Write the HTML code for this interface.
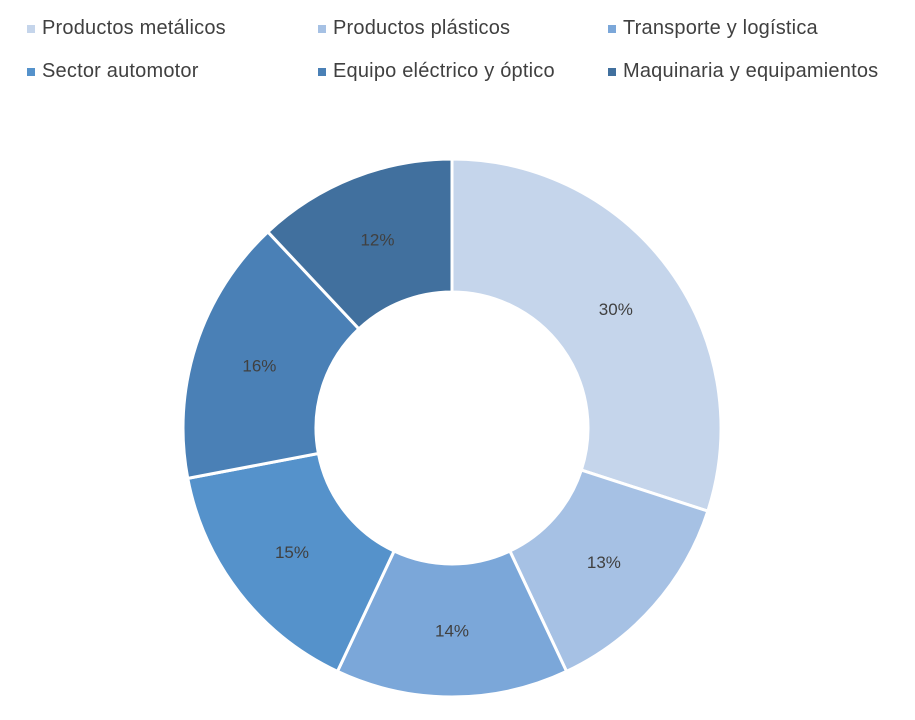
<!DOCTYPE html>
<html><head><meta charset="utf-8"><style>
body{margin:0;background:#fff;width:915px;height:720px;overflow:hidden;font-family:"Liberation Sans",sans-serif}
.lg{position:absolute;font-size:20px;letter-spacing:0.2px;color:#404040;white-space:nowrap}
.lg i{position:absolute;left:-15px;top:8px;width:8px;height:8px}
</style></head><body>
<div class="lg" style="left:42px;top:17px"><i style="background:#c5d5eb"></i>Productos metálicos</div>
<div class="lg" style="left:333px;top:17px"><i style="background:#a6c1e4"></i>Productos plásticos</div>
<div class="lg" style="left:623px;top:17px"><i style="background:#7ba7d9"></i>Transporte y logística</div>
<div class="lg" style="left:42px;top:60px"><i style="background:#5592cb"></i>Sector automotor</div>
<div class="lg" style="left:333px;top:60px"><i style="background:#4a80b6"></i>Equipo eléctrico y óptico</div>
<div class="lg" style="left:623px;top:60px"><i style="background:#41709e"></i>Maquinaria y equipamientos</div>
<svg id="s" width="915" height="720" style="position:absolute;left:0;top:0"></svg>
<script>
var cx=452,cy=428,R=269,r=136;
var v=[30,13,14,15,16,12],c=["#c5d5eb","#a6c1e4","#7ba7d9","#5592cb","#4a80b6","#41709e"];
var s="",a0=0;
function p(a,rr){return [cx+rr*Math.sin(a),cy-rr*Math.cos(a)];}
for(var i=0;i<6;i++){
 var a1=a0+v[i]/100*2*Math.PI,l=(a1-a0)>Math.PI?1:0;
 var A=p(a0,R),B=p(a1,R),C=p(a1,r),D=p(a0,r);
 s+='<path d="M'+A+' A'+R+' '+R+' 0 '+l+' 1 '+B+' L'+C+' A'+r+' '+r+' 0 '+l+' 0 '+D+' Z" fill="'+c[i]+'" stroke="#fff" stroke-width="3"/>';
 var m=p((a0+a1)/2,(R+r)/2);
 s+='<text x="'+m[0]+'" y="'+(m[1]+6)+'" text-anchor="middle" font-size="17" fill="#404040" font-family="Liberation Sans,sans-serif">'+v[i]+'%</text>';
 a0=a1;
}
document.getElementById("s").innerHTML=s;
</script>
</body></html>
